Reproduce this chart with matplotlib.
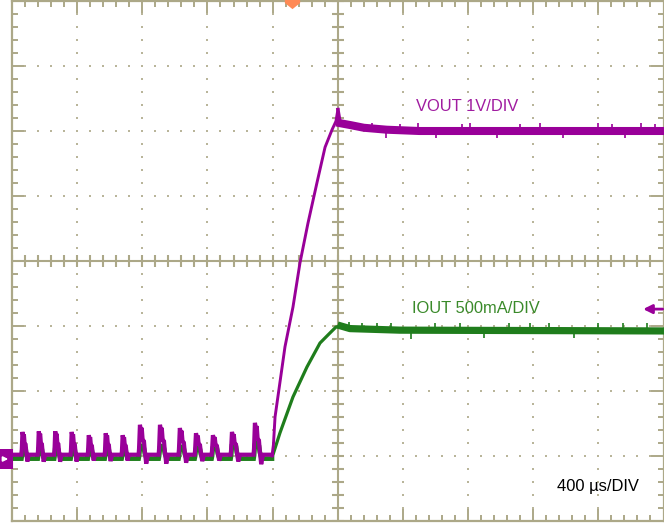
import matplotlib
matplotlib.use("Agg")
import matplotlib.pyplot as plt
import numpy as np
from matplotlib.patches import Rectangle, FancyArrowPatch
from matplotlib.transforms import blended_transform_factory

plt.rcParams['font.family'] = ['Liberation Sans', 'DejaVu Sans']

# ---------------- scope settings ----------------
time_per_div_us = 400
n_xdiv = 10
n_ydiv = 8
vout_per_div = 1.0       # V / div
iout_per_div = 500.0     # mA / div
ground_div = 1.0         # ground reference of both channels (divisions above bottom)
trigger_time_us = 1720
trigger_level_v = 2.26

vout_label = "VOUT 1V/DIV"
iout_label = "IOUT 500mA/DIV"
time_label = "400 µs/DIV"

# ---------------- data ----------------
vout_base_v = 0.02
iout_base_ma = -20

# switching bursts before start-up
burst_t_us = [60, 160, 261, 362, 467, 571, 675, 780, 903, 1025, 1124, 1228, 1345, 1486]
burst_w_us = [43, 43, 43, 43, 43, 43, 43, 55, 55, 55, 55, 55, 55, 55]
burst_v = [0.37, 0.38, 0.38, 0.37, 0.32, 0.35, 0.32, 0.48, 0.48, 0.43, 0.35, 0.32, 0.37, 0.51]
burst_i_ma = [70, 65, 65, 60, 55, 60, 55, 75, 75, 70, 65, 75, 95, 100]
burst_shape_dt = [-0.05, 0.0, 0.1, 0.22, 0.3, 0.4, 0.55, 0.65, 0.8, 1.0]
burst_shape_v = [0.0, 0.2, 1.0, 0.8, 0.9, 0.5, 0.45, 0.1, -0.3, 0.0]
burst_shape_i = [0.0, 0.2, 0.9, 1.0, 1.0, 0.9, 0.8, 0.4, 0.1, 0.0]

# start-up ramp
vout_ramp_t = [1596, 1605, 1615, 1676, 1725, 1768, 1817, 1872, 1922, 1965, 1989, 2001]
vout_ramp_v = [0.0, 0.17, 0.60, 1.68, 2.29, 2.97, 3.58, 4.20, 4.75, 5.02, 5.15, 5.33]
vout_settle_t = [2001, 2015, 2080, 2160, 2300, 2500, 4000]
vout_settle_v = [5.33, 5.12, 5.09, 5.05, 5.02, 5.0, 5.0]
vout_noise_t = [2210, 2296, 2382, 2492, 2603, 2763, 2812, 2978, 3119, 3242, 3383, 3598, 3684, 3764, 3862, 3948]
vout_noise_v = [5.12, 4.89, 5.11, 5.12, 4.89, 5.11, 5.12, 4.90, 5.11, 5.12, 4.89, 5.12, 5.11, 4.90, 5.12, 5.11]

iout_ramp_t = [1596, 1645, 1725, 1811, 1891, 1952, 1989, 2020]
iout_ramp_ma = [-15, 177, 454, 685, 869, 946, 992, 1000]
iout_settle_t = [2020, 2075, 2382, 4000]
iout_settle_ma = [1000, 980, 968, 962]
iout_noise_t = [2070, 2150, 2240, 2330, 2450, 2600, 2750, 2900, 3050, 3180, 3300, 3450, 3600, 3750, 3900]
iout_noise_ma = [1030, 1020, 1025, 1022, 900, 1020, 1025, 905, 1022, 1020, 1025, 905, 1020, 1025, 1022]

# ---------------- colours ----------------
grid_c = '#aca888'
dot_c = '#b9b59a'
purple = '#990099'
purple_txt = '#a01ca0'
green = '#1f7d1c'
green_txt = '#3a8a2a'
orange = '#ff8a55'

W, H = 664, 523
fig = plt.figure(figsize=(W / 100, H / 100), dpi=100)
rect = [12 / W, 2 / H, 651.5 / W, 520 / H]

# ---- graticule axes (division units) ----
ax = fig.add_axes(rect)
ax.set_xlim(0, n_xdiv)
ax.set_ylim(0, n_ydiv)
ax.set_xticks(np.arange(0, n_xdiv + 1))
ax.set_yticks(np.arange(0, n_ydiv + 1))
ax.set_xticks(np.arange(0, n_xdiv + 0.01, 0.2), minor=True)
ax.set_yticks(np.arange(0, n_ydiv + 0.01, 0.2), minor=True)
ax.tick_params(which='both', direction='in', top=True, right=True,
               labelleft=False, labelbottom=False, color=grid_c, width=1.4)
ax.tick_params(which='major', length=9.5)
ax.tick_params(which='minor', length=4.2)
for s in ax.spines.values():
    s.set_color(grid_c)
    s.set_linewidth(1.6)

mx = np.arange(0, n_xdiv + 0.01, 0.2)
my = np.arange(0, n_ydiv + 0.01, 0.2)
cx, cy = n_xdiv / 2, n_ydiv / 2
for i in range(1, n_xdiv):
    if i != cx:
        ax.plot(np.full_like(my, i), my, ls='none', marker='s', ms=1.5, mew=0, color=dot_c)
for j in range(1, n_ydiv):
    if j != cy:
        ax.plot(mx, np.full_like(mx, j), ls='none', marker='s', ms=1.5, mew=0, color=dot_c)
ax.axvline(cx, color=grid_c, lw=1.5)
ax.axhline(cy, color=grid_c, lw=1.5)
ax.plot(np.full_like(my, cx), my, ls='none', marker='_', ms=8.5, mew=1.5, color=grid_c)
ax.plot(mx, np.full_like(mx, cy), ls='none', marker='|', ms=8.5, mew=1.5, color=grid_c)

# ---- channel axes ----
axi = fig.add_axes(rect)
axi.set_xlim(0, n_xdiv * time_per_div_us)
axi.set_ylim(-ground_div * iout_per_div, (n_ydiv - ground_div) * iout_per_div)
axi.axis('off')
axi.patch.set_alpha(0)

axv = fig.add_axes(rect)
axv.set_xlim(0, n_xdiv * time_per_div_us)
axv.set_ylim(-ground_div * vout_per_div, (n_ydiv - ground_div) * vout_per_div)
axv.axis('off')
axv.patch.set_alpha(0)

# pre-start bursts
tv, vv, ii = [0], [vout_base_v], [iout_base_ma]
for t0, w, pv, pi in zip(burst_t_us, burst_w_us, burst_v, burst_i_ma):
    for dt, fv, fi in zip(burst_shape_dt, burst_shape_v, burst_shape_i):
        tv.append(t0 + dt * w)
        vv.append(vout_base_v + fv * (pv - vout_base_v))
        ii.append(iout_base_ma + fi * (pi - iout_base_ma))
tv.append(vout_ramp_t[0]); vv.append(vout_base_v); ii.append(iout_base_ma)

axi.plot(tv, ii, color=green, lw=3.4, solid_joinstyle='miter')
axi.plot(iout_ramp_t, iout_ramp_ma, color=green, lw=2.3)
axi.plot(iout_settle_t, iout_settle_ma, color=green, lw=5.2)
axi.vlines(iout_noise_t, iout_settle_ma[-1], iout_noise_ma, color=green, lw=1.2)

axv.plot(tv, vv, color=purple, lw=3.0, solid_joinstyle='miter')
axv.plot(vout_ramp_t, vout_ramp_v, color=purple, lw=2.1)
axv.plot(vout_settle_t[:3], vout_settle_v[:3], color=purple, lw=2.5)
axv.plot(vout_settle_t[1:], vout_settle_v[1:], color=purple, lw=5.8)
axv.vlines(vout_noise_t, vout_settle_v[-1], vout_noise_v, color=purple, lw=1.2)

# trigger level arrow (right)
axv.annotate('', xy=(3875, trigger_level_v), xytext=(3995, trigger_level_v),
             arrowprops=dict(arrowstyle='-|>', color=purple, lw=2.0,
                             mutation_scale=13, shrinkA=0, shrinkB=0))
# trigger position marker (top)
btr = blended_transform_factory(axv.transData, axv.transAxes)
pent = [(-1, 0.4), (1, 0.4), (1, -0.2), (0, -1), (-1, -0.2), (-1, 0.4)]
axv.plot([trigger_time_us], [1.0], transform=btr, marker=pent, ms=11,
         color=orange, mew=0, clip_on=False, ls='none')

# ground marker (left)
fig.add_artist(Rectangle((0, (H - 469) / H), 12.5 / W, 20 / H,
                         transform=fig.transFigure, color=purple, lw=0))
fig.add_artist(FancyArrowPatch(
    (1.5 / W, (H - 459) / H), (11 / W, (H - 459) / H), transform=fig.transFigure,
    arrowstyle='-|>', mutation_scale=7, color='white', lw=1.2))

# labels
ax.text(6.20, 6.31, vout_label, color=purple_txt, fontsize=11.9, va='baseline', ha='left')
ax.text(6.14, 3.195, iout_label, color=green_txt, fontsize=11.9, va='baseline', ha='left')
ax.text(8.36, 0.466, time_label, color='black', fontsize=11.9, va='baseline', ha='left')

fig.savefig('out.png', dpi=100)
